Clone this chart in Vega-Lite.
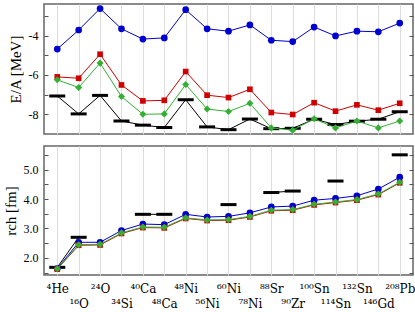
{
  "$schema": "https://vega.github.io/schema/vega-lite/v6.json",
  "padding": {"left": 2, "top": 3, "right": 4, "bottom": 0},
  "spacing": 10,
  "config": {
    "font": "Liberation Serif",
    "view": {"stroke": "#666", "strokeWidth": 1.5},
    "axis": {"labelFont": "Liberation Serif", "titleFont": "Liberation Serif", "labelFontSize": 12, "titleFontSize": 15, "titleFontWeight": "normal", "labelColor": "black", "titleColor": "black", "tickColor": "#555"}
  },
  "datasets": {
    "be": [
      {"i": 0, "nuc": "4He", "b": -4.69, "r": -6.10, "g": -6.25, "e": -7.07},
      {"i": 1, "nuc": "16O", "b": -3.72, "r": -6.17, "g": -6.64, "e": -7.98},
      {"i": 2, "nuc": "24O", "b": -2.63, "r": -4.95, "g": -5.40, "e": -7.04},
      {"i": 3, "nuc": "34Si", "b": -3.66, "r": -6.51, "g": -7.10, "e": -8.34},
      {"i": 4, "nuc": "40Ca", "b": -4.18, "r": -7.32, "g": -8.00, "e": -8.55},
      {"i": 5, "nuc": "48Ca", "b": -4.12, "r": -7.29, "g": -7.98, "e": -8.67},
      {"i": 6, "nuc": "48Ni", "b": -2.69, "r": -5.83, "g": -6.49, "e": -7.26},
      {"i": 7, "nuc": "56Ni", "b": -3.66, "r": -7.03, "g": -7.73, "e": -8.64},
      {"i": 8, "nuc": "60Ni", "b": -3.78, "r": -7.15, "g": -7.86, "e": -8.78},
      {"i": 9, "nuc": "78Ni", "b": -3.46, "r": -6.73, "g": -7.44, "e": -8.24},
      {"i": 10, "nuc": "88Sr", "b": -4.24, "r": -7.91, "g": -8.69, "e": -8.73},
      {"i": 11, "nuc": "90Zr", "b": -4.31, "r": -8.01, "g": -8.81, "e": -8.71},
      {"i": 12, "nuc": "100Sn", "b": -3.57, "r": -7.41, "g": -8.23, "e": -8.25},
      {"i": 13, "nuc": "114Sn", "b": -4.02, "r": -7.84, "g": -8.69, "e": -8.52},
      {"i": 14, "nuc": "132Sn", "b": -3.78, "r": -7.52, "g": -8.34, "e": -8.35},
      {"i": 15, "nuc": "146Gd", "b": -3.81, "r": -7.79, "g": -8.69, "e": -8.25},
      {"i": 16, "nuc": "208Pb", "b": -3.37, "r": -7.44, "g": -8.34, "e": -7.87}
    ],
    "rch": [
      {"i": 0, "nuc": "4He", "b": 1.64, "r": 1.62, "g": 1.63, "e": 1.68},
      {"i": 1, "nuc": "16O", "b": 2.53, "r": 2.43, "g": 2.45, "e": 2.70},
      {"i": 2, "nuc": "24O", "b": 2.53, "r": 2.44, "g": 2.46, "e": null},
      {"i": 3, "nuc": "34Si", "b": 2.93, "r": 2.83, "g": 2.85, "e": null},
      {"i": 4, "nuc": "40Ca", "b": 3.15, "r": 3.03, "g": 3.05, "e": 3.48},
      {"i": 5, "nuc": "48Ca", "b": 3.13, "r": 3.02, "g": 3.04, "e": 3.48},
      {"i": 6, "nuc": "48Ni", "b": 3.48, "r": 3.34, "g": 3.36, "e": null},
      {"i": 7, "nuc": "56Ni", "b": 3.39, "r": 3.27, "g": 3.29, "e": null},
      {"i": 8, "nuc": "60Ni", "b": 3.41, "r": 3.28, "g": 3.30, "e": 3.81},
      {"i": 9, "nuc": "78Ni", "b": 3.53, "r": 3.39, "g": 3.41, "e": null},
      {"i": 10, "nuc": "88Sr", "b": 3.73, "r": 3.60, "g": 3.62, "e": 4.22},
      {"i": 11, "nuc": "90Zr", "b": 3.76, "r": 3.62, "g": 3.64, "e": 4.27},
      {"i": 12, "nuc": "100Sn", "b": 3.96, "r": 3.80, "g": 3.82, "e": null},
      {"i": 13, "nuc": "114Sn", "b": 4.02, "r": 3.88, "g": 3.90, "e": 4.61},
      {"i": 14, "nuc": "132Sn", "b": 4.11, "r": 3.96, "g": 3.98, "e": null},
      {"i": 15, "nuc": "146Gd", "b": 4.34, "r": 4.15, "g": 4.17, "e": null},
      {"i": 16, "nuc": "208Pb", "b": 4.74, "r": 4.55, "g": 4.57, "e": 5.50}
    ]
  },
  "vconcat": [
    {
      "width": 369, "height": 130,
      "data": {"name": "be"},
      "encoding": {
        "x": {"field": "i", "type": "quantitative", "scale": {"domain": [-0.62, 16.62], "nice": false, "zero": false},
              "axis": {"values": [0,1,2,3,4,5,6,7,8,9,10,11,12,13,14,15,16], "grid": true, "gridColor": "#ddd", "labels": false, "ticks": false, "domain": false, "title": null}}
      },
      "layer": [
        {"mark": {"type": "line", "color": "black", "strokeWidth": 1},
         "encoding": {"y": {"field": "e", "type": "quantitative", "scale": {"domain": [-9, -2.4], "nice": false, "zero": false},
           "axis": {"title": "E/A [MeV]", "values": [-3,-4,-5,-6,-7,-8], "labelExpr": "datum.value % 2 == 0 ? '-' + abs(datum.value) : ''", "tickSize": -4, "labelPadding": 10, "domain": false, "grid": false, "titlePadding": 5}}}},
        {"mark": {"type": "tick", "orient": "horizontal", "color": "black", "size": 16, "thickness": 3, "opacity": 1},
         "encoding": {"y": {"field": "e", "type": "quantitative", "scale": {"domain": [-9, -2.4], "nice": false, "zero": false}, "axis": null}}},
        {"mark": {"type": "line", "color": "#0000d0", "strokeWidth": 1},
         "encoding": {"y": {"field": "b", "type": "quantitative", "scale": {"domain": [-9, -2.4], "nice": false, "zero": false}, "axis": null}}},
        {"mark": {"type": "point", "shape": "circle", "filled": true, "color": "#0000d0", "size": 45, "opacity": 1},
         "encoding": {"y": {"field": "b", "type": "quantitative", "scale": {"domain": [-9, -2.4], "nice": false, "zero": false}, "axis": null}}},
        {"mark": {"type": "line", "color": "#d00000", "strokeWidth": 1},
         "encoding": {"y": {"field": "r", "type": "quantitative", "scale": {"domain": [-9, -2.4], "nice": false, "zero": false}, "axis": null}}},
        {"mark": {"type": "point", "shape": "square", "filled": true, "color": "#d00000", "size": 32, "opacity": 1},
         "encoding": {"y": {"field": "r", "type": "quantitative", "scale": {"domain": [-9, -2.4], "nice": false, "zero": false}, "axis": null}}},
        {"mark": {"type": "line", "color": "#33b033", "strokeWidth": 1},
         "encoding": {"y": {"field": "g", "type": "quantitative", "scale": {"domain": [-9, -2.4], "nice": false, "zero": false}, "axis": null}}},
        {"mark": {"type": "point", "shape": "diamond", "filled": true, "color": "#33b033", "size": 50, "opacity": 1},
         "encoding": {"y": {"field": "g", "type": "quantitative", "scale": {"domain": [-9, -2.4], "nice": false, "zero": false},
           "axis": {"orient": "right", "title": null, "values": [-3,-4,-5,-6,-7,-8], "labels": false, "tickSize": -4, "domain": false, "grid": false}}}}
      ],
      "resolve": {"axis": {"y": "independent"}}
    },
    {
      "width": 369, "height": 129,
      "data": {"name": "rch"},
      "encoding": {
        "x": {"field": "i", "type": "quantitative", "scale": {"domain": [-0.62, 16.62], "nice": false, "zero": false},
              "axis": {"values": [0,1,2,3,4,5,6,7,8,9,10,11,12,13,14,15,16], "grid": true, "gridColor": "#ddd", "ticks": false, "domain": false, "title": null, "labelPadding": 8, "labelLineHeight": 15, "labelFont": "DejaVu Serif", "labelFontSize": 12, "labelOverlap": false, "labelFlush": false,
                "labelExpr": "datum.value % 2 == 1 ? ['', ['⁴He','¹⁶O','²⁴O','³⁴Si','⁴⁰Ca','⁴⁸Ca','⁴⁸Ni','⁵⁶Ni','⁶⁰Ni','⁷⁸Ni','⁸⁸Sr','⁹⁰Zr','¹⁰⁰Sn','¹¹⁴Sn','¹³²Sn','¹⁴⁶Gd','²⁰⁸Pb'][datum.value]] : ['⁴He','¹⁶O','²⁴O','³⁴Si','⁴⁰Ca','⁴⁸Ca','⁴⁸Ni','⁵⁶Ni','⁶⁰Ni','⁷⁸Ni','⁸⁸Sr','⁹⁰Zr','¹⁰⁰Sn','¹¹⁴Sn','¹³²Sn','¹⁴⁶Gd','²⁰⁸Pb'][datum.value]"}}
      },
      "layer": [
        {"mark": {"type": "line", "color": "black", "strokeWidth": 1, "invalid": "break-paths-show-domains"},
         "encoding": {"y": {"field": "e", "type": "quantitative", "scale": {"domain": [1.42, 5.8], "nice": false, "zero": false},
           "axis": {"title": "rch [fm]", "values": [1.5,2,2.5,3,3.5,4,4.5,5,5.5], "labelExpr": "datum.value % 1 == 0 ? datum.label : ''", "tickSize": -4, "labelPadding": 10, "domain": false, "grid": false, "titlePadding": 5}}}},
        {"mark": {"type": "tick", "orient": "horizontal", "color": "black", "size": 16, "thickness": 3, "opacity": 1},
         "encoding": {"y": {"field": "e", "type": "quantitative", "scale": {"domain": [1.42, 5.8], "nice": false, "zero": false}, "axis": null}}},
        {"mark": {"type": "line", "color": "#0000d0", "strokeWidth": 1},
         "encoding": {"y": {"field": "b", "type": "quantitative", "scale": {"domain": [1.42, 5.8], "nice": false, "zero": false}, "axis": null}}},
        {"mark": {"type": "point", "shape": "circle", "filled": true, "color": "#0000d0", "size": 45, "opacity": 1},
         "encoding": {"y": {"field": "b", "type": "quantitative", "scale": {"domain": [1.42, 5.8], "nice": false, "zero": false}, "axis": null}}},
        {"mark": {"type": "line", "color": "#d00000", "strokeWidth": 1},
         "encoding": {"y": {"field": "r", "type": "quantitative", "scale": {"domain": [1.42, 5.8], "nice": false, "zero": false}, "axis": null}}},
        {"mark": {"type": "point", "shape": "square", "filled": true, "color": "#d00000", "size": 32, "opacity": 1},
         "encoding": {"y": {"field": "r", "type": "quantitative", "scale": {"domain": [1.42, 5.8], "nice": false, "zero": false}, "axis": null}}},
        {"mark": {"type": "line", "color": "#33b033", "strokeWidth": 1},
         "encoding": {"y": {"field": "g", "type": "quantitative", "scale": {"domain": [1.42, 5.8], "nice": false, "zero": false}, "axis": null}}},
        {"mark": {"type": "point", "shape": "diamond", "filled": true, "color": "#33b033", "size": 50, "opacity": 1},
         "encoding": {"y": {"field": "g", "type": "quantitative", "scale": {"domain": [1.42, 5.8], "nice": false, "zero": false},
           "axis": {"orient": "right", "title": null, "values": [1.5,2,2.5,3,3.5,4,4.5,5,5.5], "labels": false, "tickSize": -4, "domain": false, "grid": false}}}}
      ],
      "resolve": {"axis": {"y": "independent"}}
    }
  ]
}
